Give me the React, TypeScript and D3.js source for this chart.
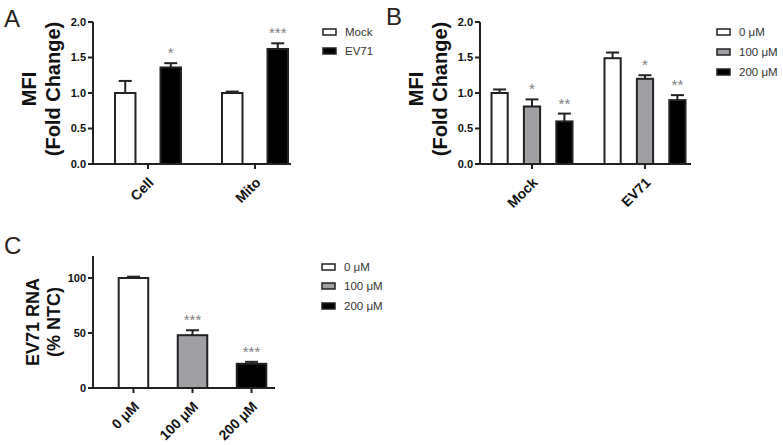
import React from "react";
import * as d3 from "d3";

const groupsA = ["Cell", "Mito"];
const seriesA = ["Mock", "EV71"];
const valuesA = [[1.0, 1.36], [1.0, 1.62]];
const errorsA = [[0.17, 0.06], [0.02, 0.08]];
const starsA = [["", "*"], ["", "***"]];

const groupsB = ["Mock", "EV71"];
const seriesB = ["0 μM", "100 μM", "200 μM"];
const valuesB = [[1.0, 0.81, 0.6], [1.49, 1.2, 0.9]];
const errorsB = [[0.05, 0.1, 0.11], [0.08, 0.05, 0.07]];
const starsB = [["", "*", "**"], ["", "*", "**"]];

const categoriesC = ["0 μM", "100 μM", "200 μM"];
const valuesC = [100, 48, 22];
const errorsC = [1.2, 4.5, 1.8];
const starsC = ["", "***", "***"];

const ticksAB = [0, 0.5, 1.0, 1.5, 2.0];
const ticksC = [0, 50, 100];

const FONT = "Arial, 'Liberation Sans', Helvetica, sans-serif";
const fillsAB2 = ["#ffffff", "#000000"];
const fills3 = ["#ffffff", "#a0a0a4", "#000000"];
const STROKE = "#222";
const STAR = "#808080";

type Bar = { x0: number; x1: number; v: number; e: number; fill: string; star: string };

function Axes({ y, x0, x1, yTicks, fmt, top, tickXs }: any) {
  const y0 = y(0);
  return (
    <g>
      <line x1={x0} x2={x0} y1={top} y2={y0 + 1} stroke={STROKE} strokeWidth={2} />
      <line x1={x0 - 1} x2={x1} y1={y0} y2={y0} stroke={STROKE} strokeWidth={2} />
      {yTicks.map((t: number) => (
        <g key={t}>
          <line x1={x0 - 5} x2={x0} y1={y(t)} y2={y(t)} stroke={STROKE} strokeWidth={2} />
          <text x={x0 - 7} y={y(t)} dy="0.36em" textAnchor="end" fontFamily={FONT} fontWeight="bold" fontSize={11} fill="#111">
            {fmt(t)}
          </text>
        </g>
      ))}
      {tickXs.map((tx: number, i: number) => (
        <line key={i} x1={tx} x2={tx} y1={y0} y2={y0 + 5} stroke={STROKE} strokeWidth={2} />
      ))}
    </g>
  );
}

function Bars({ bars, y }: { bars: Bar[]; y: any }) {
  return (
    <g>
      {bars.map((b, i) => {
        const cx = (b.x0 + b.x1) / 2;
        const top = y(b.v);
        const et = y(b.v + b.e);
        return (
          <g key={i}>
            <line x1={cx} x2={cx} y1={top} y2={et} stroke={STROKE} strokeWidth={2} />
            <line x1={cx - 6.5} x2={cx + 6.5} y1={et} y2={et} stroke={STROKE} strokeWidth={2} />
            <rect x={b.x0} y={top} width={b.x1 - b.x0} height={y(0) - top} fill={b.fill} stroke={STROKE} strokeWidth={2} />
            {b.star && (
              <text x={cx} y={et - 5} textAnchor="middle" fontFamily={FONT} fontSize={15} fill={STAR}>
                {b.star}
              </text>
            )}
          </g>
        );
      })}
    </g>
  );
}

function XLabels({ labels, xs, y0 }: any) {
  return (
    <g>
      {labels.map((l: string, i: number) => (
        <text
          key={i}
          transform={`translate(${xs[i] + 3},${y0 + 16}) rotate(-45)`}
          textAnchor="end"
          dy="0.35em"
          fontFamily={FONT}
          fontWeight="bold"
          fontSize={14}
          fill="#111"
        >
          {l}
        </text>
      ))}
    </g>
  );
}

function Legend({ items, fills, x, ys }: any) {
  return (
    <g>
      {items.map((it: string, i: number) => (
        <g key={i}>
          <rect x={x} y={ys[i] - 3} width={13} height={6} fill={fills[i]} stroke={STROKE} strokeWidth={1.5} />
          <text x={x + 22} y={ys[i]} dy="0.35em" fontFamily={FONT} fontSize={11.5} fill="#333">
            {it}
          </text>
        </g>
      ))}
    </g>
  );
}

function YTitle({ lines, cx, cy, gap, size }: any) {
  return (
    <g transform={`translate(${cx},${cy}) rotate(-90)`}>
      {lines.map((l: string, i: number) => (
        <text key={i} x={0} y={i * gap} textAnchor="middle" fontFamily={FONT} fontWeight="bold" fontSize={size} fill="#111">
          {l}
        </text>
      ))}
    </g>
  );
}

export default function App() {
  // Panel A
  const yA = d3.scaleLinear().domain([0, 2]).range([164, 22]);
  const groupCentersA = [148, 255];
  const barsA: Bar[] = [];
  groupsA.forEach((g, gi) => {
    const c = groupCentersA[gi];
    const sub = d3.scaleBand().domain(seriesA).range([c - 33, c + 33]).paddingInner(0.55);
    seriesA.forEach((s, si) => {
      const x0 = sub(s)!;
      barsA.push({ x0, x1: x0 + sub.bandwidth(), v: valuesA[gi][si], e: errorsA[gi][si], fill: fillsAB2[si], star: starsA[gi][si] });
    });
  });

  // Panel B
  const yB = d3.scaleLinear().domain([0, 2]).range([164, 22]);
  const groupCentersB = [532, 645];
  const barsB: Bar[] = [];
  groupsB.forEach((g, gi) => {
    const c = groupCentersB[gi];
    const sub = d3.scaleBand().domain(seriesB).range([c - 40.5, c + 40.5]).paddingInner(0.5);
    seriesB.forEach((s, si) => {
      const x0 = sub(s)!;
      barsB.push({ x0, x1: x0 + sub.bandwidth(), v: valuesB[gi][si], e: errorsB[gi][si], fill: fills3[si], star: starsB[gi][si] });
    });
  });

  // Panel C
  const yC = d3.scaleLinear().domain([0, 120]).range([388, 256]);
  const xC = d3.scaleBand().domain(categoriesC).range([101, 284]).paddingInner(0.5).paddingOuter(0.3);
  const barsC: Bar[] = categoriesC.map((c, i) => ({
    x0: xC(c)!,
    x1: xC(c)! + xC.bandwidth(),
    v: valuesC[i],
    e: errorsC[i],
    fill: fills3[i],
    star: starsC[i],
  }));
  const tickC = categoriesC.map((c) => xC(c)! + xC.bandwidth() / 2);

  return (
    <svg width={783} height={445} style={{ position: "absolute", left: 0, top: 0, background: "#fff" }}>
      <rect width={783} height={445} fill="#fff" />
      <text x={4} y={27} fontFamily={FONT} fontSize={24} fill="#2a1f1a">A</text>
      <text x={386} y={25} fontFamily={FONT} fontSize={24} fill="#2a1f1a">B</text>
      <text x={4} y={254} fontFamily={FONT} fontSize={24} fill="#2a1f1a">C</text>

      {/* Panel A */}
      <YTitle lines={["MFI", "(Fold Change)"]} cx={36} cy={89} gap={24} size={20} />
      <Bars bars={barsA} y={yA} />
      <Axes y={yA} x0={93} x1={291} yTicks={ticksAB} fmt={(t: number) => t.toFixed(1)} top={22} tickXs={groupCentersA} />
      <XLabels labels={groupsA} xs={groupCentersA} y0={164} />
      <Legend items={seriesA} fills={fillsAB2} x={323} ys={[32, 51]} />

      {/* Panel B */}
      <YTitle lines={["MFI", "(Fold Change)"]} cx={423} cy={89} gap={24} size={20} />
      <Bars bars={barsB} y={yB} />
      <Axes y={yB} x0={480} x1={691} yTicks={ticksAB} fmt={(t: number) => t.toFixed(1)} top={22} tickXs={groupCentersB} />
      <XLabels labels={groupsB} xs={groupCentersB} y0={164} />
      <Legend items={seriesB} fills={fills3} x={717} ys={[32, 52, 72]} />

      {/* Panel C */}
      <YTitle lines={["EV71 RNA", "(% NTC)"]} cx={39} cy={322} gap={21} size={18} />
      <Bars bars={barsC} y={yC} />
      <Axes y={yC} x0={93} x1={275} yTicks={ticksC} fmt={(t: number) => String(t)} top={256} tickXs={tickC} />
      <XLabels labels={categoriesC} xs={tickC} y0={388} />
      <Legend items={seriesB} fills={fills3} x={322} ys={[267, 286, 306]} />
    </svg>
  );
}
